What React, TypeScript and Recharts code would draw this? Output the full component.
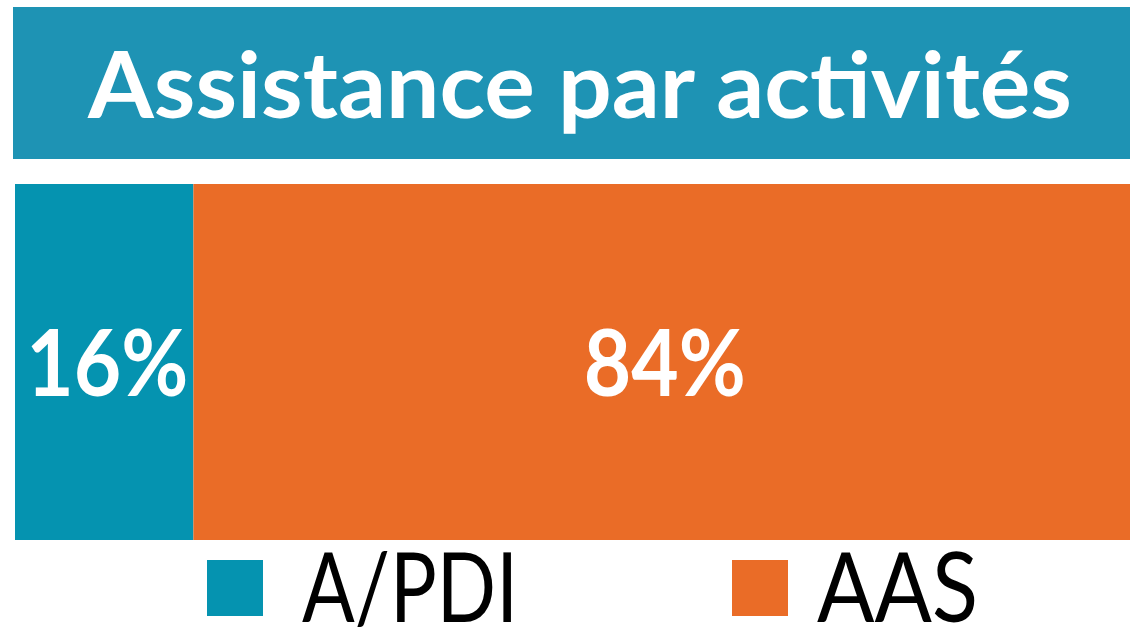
import { BarChart, Bar, XAxis, YAxis, Legend, LabelList } from 'recharts';

const categories = ['Assistance par activités'];
const seriesNames = ['A/PDI', 'AAS'];
const apdiValues = [16];
const aasValues = [84];

const data = categories.map((name, i) => ({
  name,
  apdi: apdiValues[i],
  aas: aasValues[i],
}));

const TITLE_BG = '#1E93B4';
const BLUE = '#0593B0';
const ORANGE = '#EA6C27';
const FONT = 'Lato, "Open Sans", sans-serif';

// percentage label inside each stacked segment
const renderPct = (props: any) => {
  const { x, y, width, height, value } = props;
  const cx = x + width / 2 + 3;
  const cy = y + height / 2;
  return (
    <text
      x={cx}
      y={cy + 34}
      textAnchor="middle"
      fill="#fff"
      fontFamily={FONT}
      fontWeight={700}
      fontSize={91}
      textLength={162}
      lengthAdjust="spacingAndGlyphs"
    >
      {value}%
    </text>
  );
};

// legend drawn under the bar, squares + big labels
const renderLegend = (props: any) => {
  const { payload } = props;
  const spots = [
    { sq: 192, tx: 287, len: 216 },
    { sq: 717, tx: 802, len: 161 },
  ];
  return (
    <svg width={1115} height={88} style={{ display: 'block', overflow: 'visible' }}>
      {(payload || []).map((entry: any, i: number) => (
        <g key={entry.value}>
          <rect x={spots[i].sq} y={20} width={56} height={56} fill={entry.color} />
          <text
            x={spots[i].tx}
            y={82}
            fill="#000"
            fontFamily={FONT}
            fontSize={97}
            textLength={spots[i].len}
            lengthAdjust="spacingAndGlyphs"
          >
            {entry.value}
          </text>
        </g>
      ))}
    </svg>
  );
};

export default function App() {
  return (
    <div style={{ position: 'absolute', left: 0, top: 0, width: 1130, height: 628, overflow: 'hidden', background: '#fff' }}>
      <svg width={1130} height={184} style={{ position: 'absolute', left: 0, top: 0 }}>
        <rect x={13} y={7} width={1117} height={152} fill={TITLE_BG} />
        <text
          x={88}
          y={118}
          fill="#fff"
          fontFamily={FONT}
          fontWeight={700}
          fontSize={91}
          textLength={984}
          lengthAdjust="spacingAndGlyphs"
        >
          {categories[0]}
        </text>
      </svg>
      <div style={{ position: 'absolute', left: 0, top: 184 }}>
        <BarChart
          width={1130}
          height={444}
          data={data}
          layout="vertical"
          margin={{ top: 0, right: 0, bottom: 0, left: 15 }}
          barCategoryGap={0}
        >
          <XAxis type="number" domain={[0, 100]} hide />
          <YAxis type="category" dataKey="name" hide />
          <Legend verticalAlign="bottom" content={renderLegend} />
          <Bar dataKey="apdi" name={seriesNames[0]} stackId="a" fill={BLUE} isAnimationActive={false}>
            <LabelList dataKey="apdi" content={renderPct} />
          </Bar>
          <Bar dataKey="aas" name={seriesNames[1]} stackId="a" fill={ORANGE} isAnimationActive={false}>
            <LabelList dataKey="aas" content={renderPct} />
          </Bar>
        </BarChart>
      </div>
    </div>
  );
}
